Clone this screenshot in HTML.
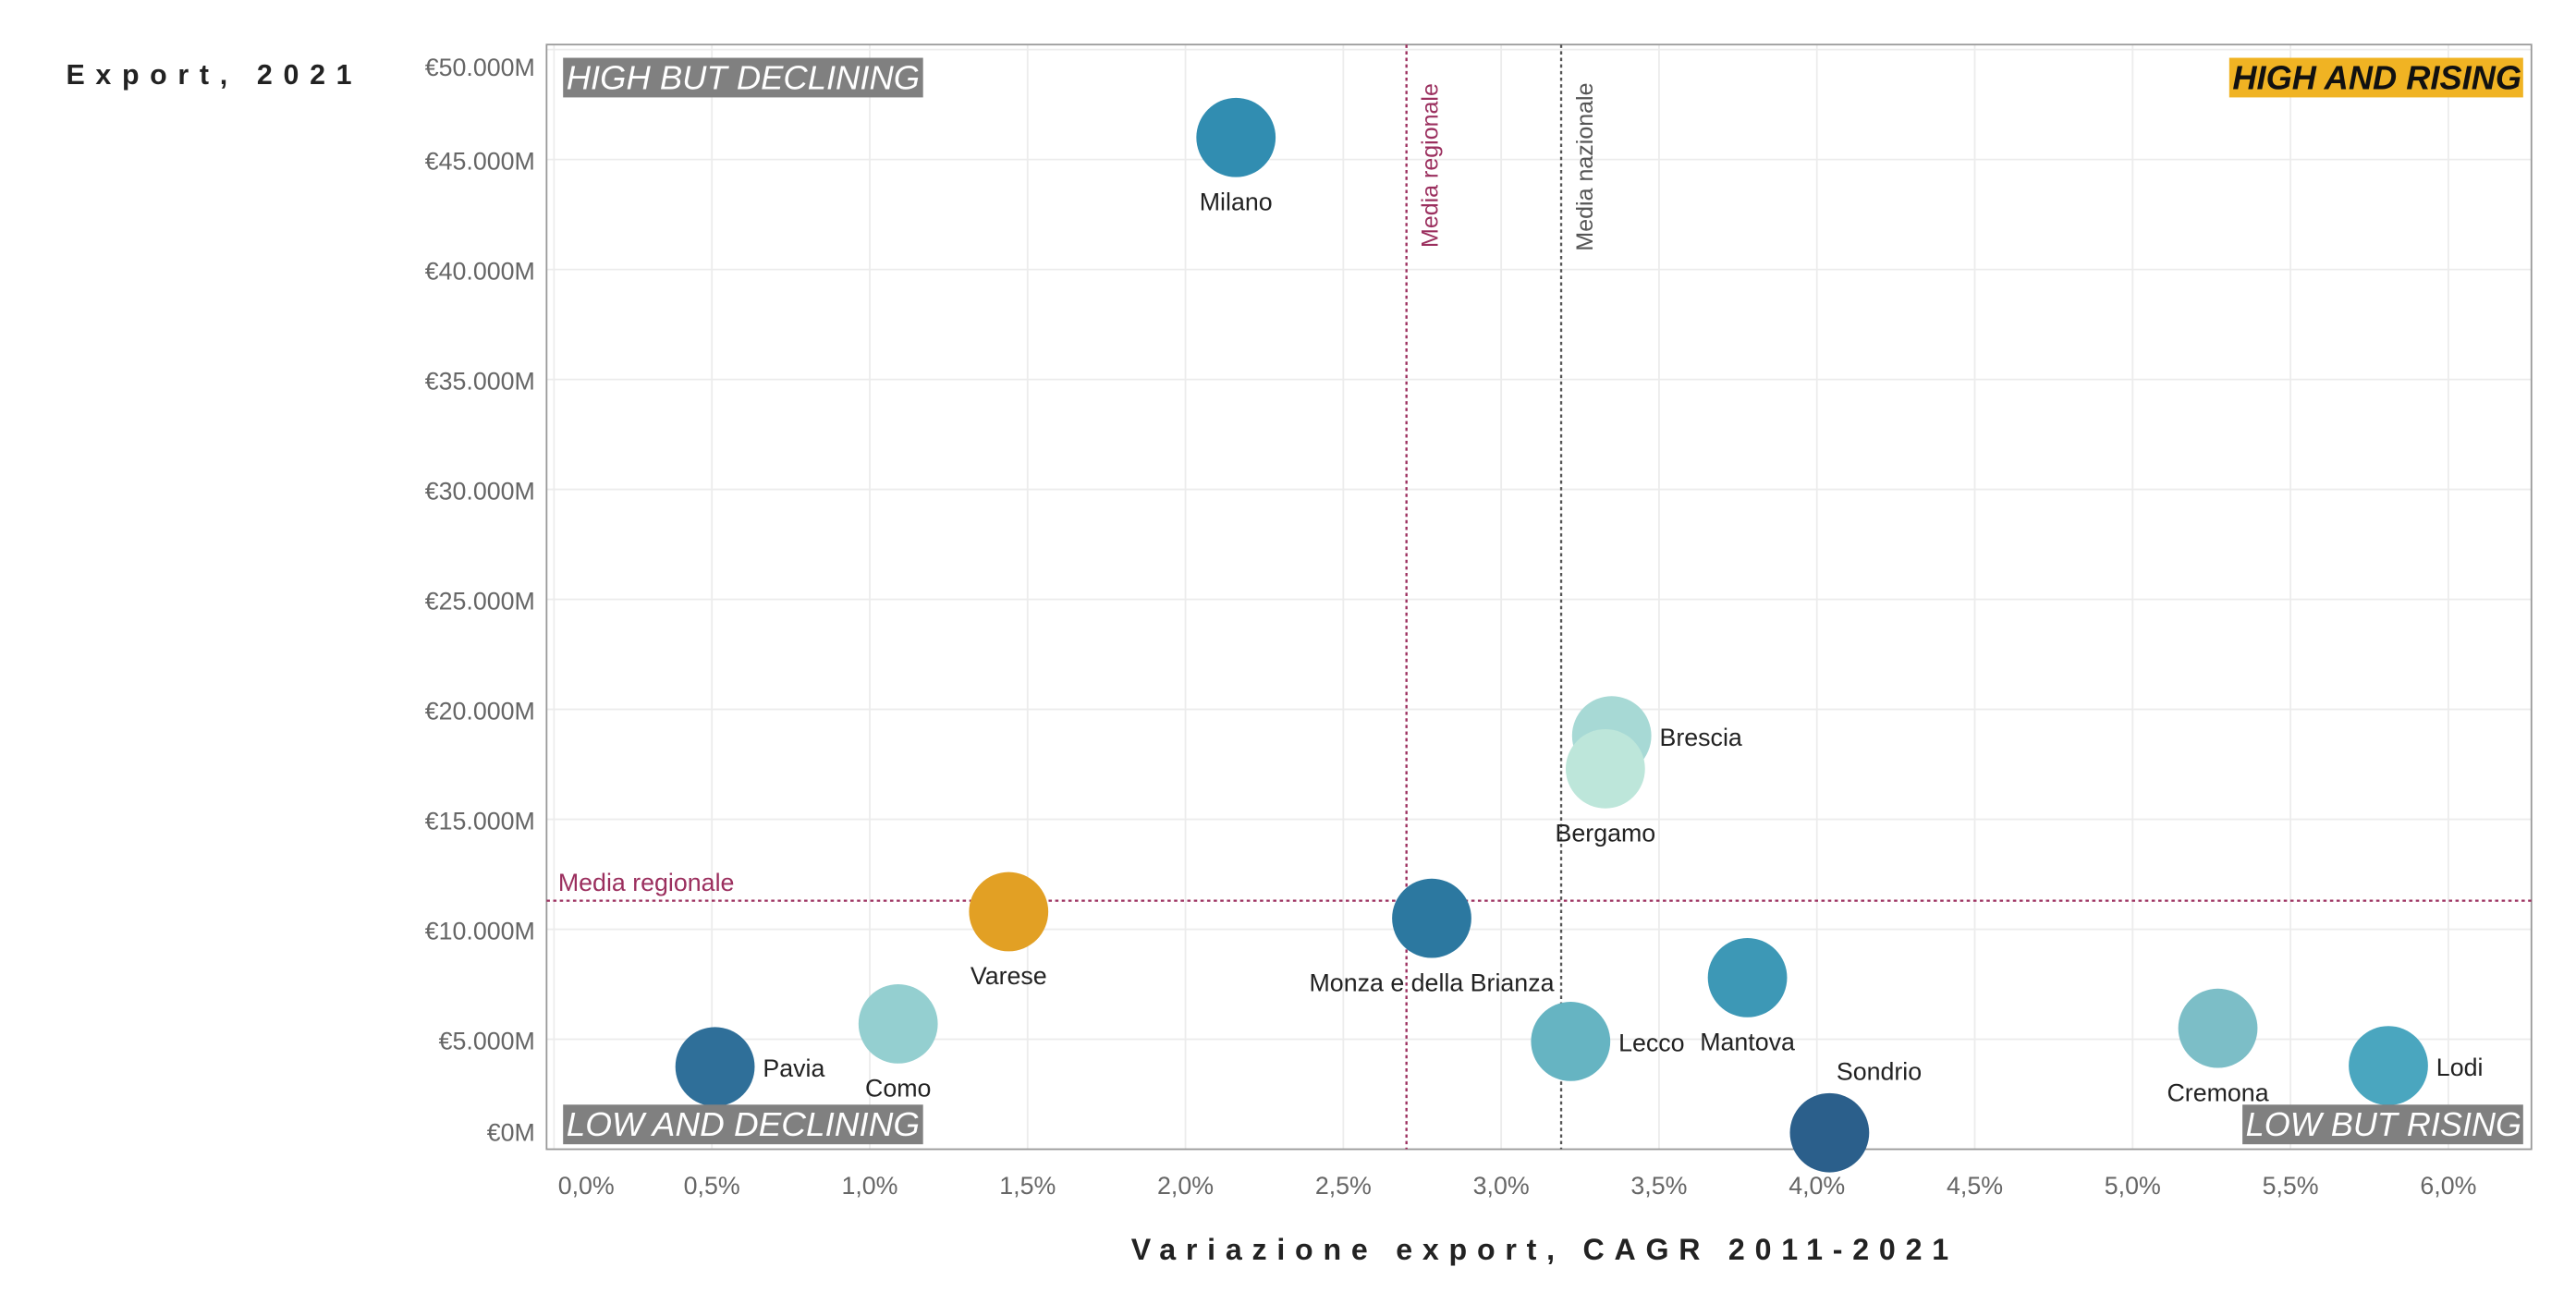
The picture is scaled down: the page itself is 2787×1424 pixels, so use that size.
<!DOCTYPE html>
<html><head><meta charset="utf-8"><style>
html,body{margin:0;padding:0;background:#fff;}
svg{display:block;font-family:"Liberation Sans",sans-serif;}
</style></head><body>
<svg id="chart" width="2787" height="1424" viewBox="0 0 1560 797" preserveAspectRatio="none" xmlns="http://www.w3.org/2000/svg">
<g id="grid"></g>
<rect x="331" y="27" width="1202" height="669" fill="none" stroke="#999" stroke-width="1"/>
<g id="yticks"></g>
<g id="xticks"></g>
<g id="refs"></g>
<g id="marks"></g>
<g>
<rect x="341" y="35" width="218" height="24" fill="#808080"/>
<text x="343" y="54" fill="#fff" font-size="20" font-style="italic" textLength="214" lengthAdjust="spacingAndGlyphs">HIGH BUT DECLINING</text>
<rect x="1350" y="35" width="178" height="24" fill="#f0b323"/>
<text x="1352" y="54" fill="#111" font-size="20" font-style="italic" font-weight="bold" textLength="175" lengthAdjust="spacingAndGlyphs">HIGH AND RISING</text>
<rect x="341" y="669" width="218" height="24" fill="#808080"/>
<text x="343" y="688" fill="#fff" font-size="20" font-style="italic" textLength="214" lengthAdjust="spacingAndGlyphs">LOW AND DECLINING</text>
<rect x="1358" y="669" width="170" height="24" fill="#808080"/>
<text x="1360" y="688" fill="#fff" font-size="20" font-style="italic" textLength="167" lengthAdjust="spacingAndGlyphs">LOW BUT RISING</text>
</g>
<text x="40" y="51" font-size="17" font-weight="bold" fill="#222" textLength="173" lengthAdjust="spacing">Export, 2021</text>
<text x="685" y="763" font-size="18" font-weight="bold" fill="#222" textLength="495" lengthAdjust="spacing">Variazione export, CAGR 2011-2021</text>
</svg>
<script>
const names = ["Milano","Brescia","Bergamo","Varese","Monza e della Brianza","Mantova","Lecco","Como","Pavia","Sondrio","Cremona","Lodi"];
const cagr = [2.16,3.35,3.33,1.44,2.78,3.78,3.22,1.09,0.51,4.04,5.27,5.81];
const exportM = [46.0,18.8,17.3,10.8,10.5,7.8,4.9,5.7,3.75,0.75,5.5,3.8];
const colors = ["#318db1","#a7d9d5","#bde6da","#e2a024","#2c78a0","#3d98b6","#66b4c2","#94cfd0","#2f6f99","#2b5f8b","#7cbec7","#4aa6bf"];
const labelPos = ["below","right","below","below","below","below","right","below","right","above","below","right"];
const yTickValues = [0,5,10,15,20,25,30,35,40,45,50];
const yTickLabels = ["€0M","€5.000M","€10.000M","€15.000M","€20.000M","€25.000M","€30.000M","€35.000M","€40.000M","€45.000M","€50.000M"];
const xTickValues = [0,0.5,1,1.5,2,2.5,3,3.5,4,4.5,5,5.5,6];
const xTickLabels = ["0,0%","0,5%","1,0%","1,5%","2,0%","2,5%","3,0%","3,5%","4,0%","4,5%","5,0%","5,5%","6,0%"];
const regionalCagr = [2.70];
const nationalCagr = [3.19];
const regionalExport = [11.3];

const NS="http://www.w3.org/2000/svg";
function X(p){return 335.5+p*191.2;}
function Y(v){return 696-v*13.32;}
function mk(tag,attrs,parent,txt){const e=document.createElementNS(NS,tag);for(const k in attrs)e.setAttribute(k,attrs[k]);if(txt!==undefined)e.textContent=txt;parent.appendChild(e);return e;}
const grid=document.getElementById('grid'),yt=document.getElementById('yticks'),xt=document.getElementById('xticks'),refs=document.getElementById('refs'),marks=document.getElementById('marks');
yTickValues.forEach((v,i)=>{
  const l=mk('line',{x1:331,x2:1533,y1:Y(v),y2:Y(v),stroke:'#ececec','stroke-width':1},grid);
  
  
  let ty=Y(v)+6; if(v===0) ty=Y(v)-5; if(v===50) ty=Y(v)+16;
  const t=mk('text',{x:324,y:ty,'text-anchor':'end','font-size':15,fill:'#666'},yt,yTickLabels[i]);
  
  
});
xTickValues.forEach((p,i)=>{
  const l=mk('line',{x1:X(p),x2:X(p),y1:27,y2:696,stroke:'#ececec','stroke-width':1},grid);
  
  
  const t=mk('text',{x:(p===0?355:X(p)),y:723,'text-anchor':'middle','font-size':15,fill:'#666'},xt,xTickLabels[i]);
  
  
});
const vr=mk('line',{x1:X(regionalCagr[0]),x2:X(regionalCagr[0]),y1:27,y2:696,stroke:'#9b2f5e','stroke-width':1.3,'stroke-dasharray':'2,2'},refs);


const vrt=mk('text',{transform:`translate(${X(regionalCagr[0])+19},150) rotate(-90)`,'font-size':14,fill:'#9b2f5e'},refs,'Media regionale');


const vn=mk('line',{x1:X(nationalCagr[0]),x2:X(nationalCagr[0]),y1:27,y2:696,stroke:'#555','stroke-width':1.3,'stroke-dasharray':'2,2'},refs);


const vnt=mk('text',{transform:`translate(${X(nationalCagr[0])+19},152) rotate(-90)`,'font-size':14,fill:'#555'},refs,'Media nazionale');


const hr=mk('line',{x1:331,x2:1533,y1:Y(regionalExport[0]),y2:Y(regionalExport[0]),stroke:'#9b2f5e','stroke-width':1.3,'stroke-dasharray':'2,2'},refs);


const hrt=mk('text',{x:338,y:Y(regionalExport[0])-6,'font-size':15,fill:'#9b2f5e'},refs,'Media regionale');


names.forEach((n,i)=>{
  const cx=X(cagr[i]),cy=Y(exportM[i]);
  const c=mk('circle',{cx:cx,cy:cy,r:24,fill:colors[i]},marks);
  
  
  let tx=cx,ty=cy+44,anc='middle';
  if(labelPos[i]==='right'){tx=cx+29;ty=cy+6;anc='start';}
  if(labelPos[i]==='above'){tx=cx+30;ty=cy-32;}
  const t=mk('text',{x:tx,y:ty,'text-anchor':anc,'font-size':15,fill:'#222'},marks,n);
  
  
});
</script>
</body></html>
